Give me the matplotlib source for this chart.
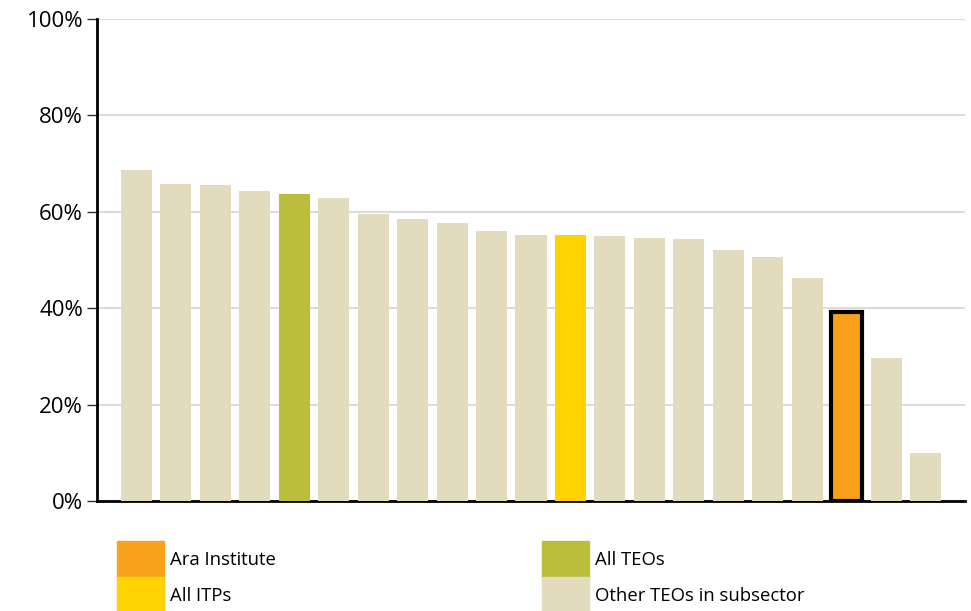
import matplotlib.pyplot as plt
from matplotlib.patches import Rectangle

# values (% share)
values = [68.6, 65.7, 65.6, 64.3, 63.7, 62.8, 59.5, 58.5, 57.7, 56.0, 55.2,
          55.2, 55.0, 54.6, 54.4, 52.1, 50.6, 46.3, 39.2, 29.6, 10.0]
groups = ["other", "other", "other", "other", "teo", "other", "other", "other",
          "other", "other", "other", "itp", "other", "other", "other", "other",
          "other", "other", "ara", "other", "other"]
yticks = [0, 20, 40, 60, 80, 100]

colors = {"ara": "#F9A11B", "itp": "#FFD200", "teo": "#BBBD3D", "other": "#E3DBBD"}
legend_items = [("Ara Institute", "ara"), ("All ITPs", "itp"),
                ("All TEOs", "teo"), ("Other TEOs in subsector", "other")]

plt.rcParams["font.family"] = ["Open Sans", "DejaVu Sans"]

fig = plt.figure(figsize=(9.71, 6.11), dpi=100)
ax = fig.add_axes([97 / 971, 110 / 611, 868 / 971, 482 / 611])

x = list(range(len(values)))
bars = ax.bar(x, values, width=0.79, color=[colors[g] for g in groups], zorder=3)
for b, g in zip(bars, groups):
    if g == "ara":
        b.set_edgecolor("black")
        b.set_linewidth(3)

ax.set_xlim(-1, len(values))
ax.set_ylim(0, 100)
ax.set_yticks(yticks)
ax.set_yticklabels([f"{t}%" for t in yticks], fontsize=16)
ax.set_xticks([])
ax.yaxis.grid(True, color="#dcdcdc", linewidth=1.5, zorder=0)
ax.tick_params(axis="y", length=7, width=1, color="#333333", pad=3)

for s in ["top", "right"]:
    ax.spines[s].set_visible(False)
ax.spines["left"].set_linewidth(2)
ax.spines["bottom"].set_linewidth(2)

# legend drawn as stacked swatches, two columns
cols = [(117, 170), (542, 595)]
rows = [541, 577]
for i, (label, key) in enumerate(legend_items):
    px, tx = cols[i // 2]
    py = rows[i % 2]
    fig.add_artist(Rectangle((px / 971, 1 - (py + 36) / 611), 47 / 971, 36 / 611,
                             transform=fig.transFigure, color=colors[key]))
    fig.text(tx / 971, 1 - (py + 19) / 611, label, fontsize=13.3, va="center")

plt.savefig("out.png")
plt.close()
